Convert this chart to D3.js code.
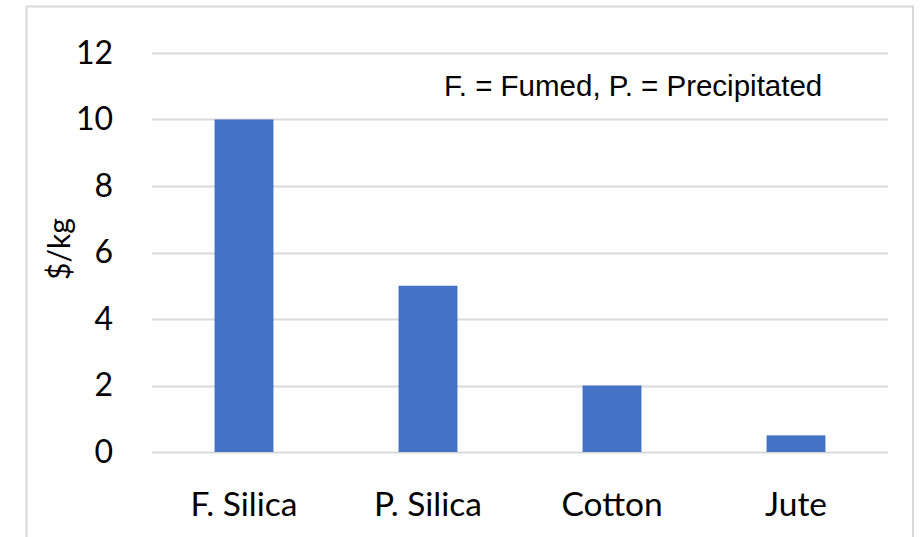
<!DOCTYPE html>
<html>
<head>
<meta charset="utf-8">
<script src="https://cdn.jsdelivr.net/npm/d3@7"></script>
<style>
  html, body { margin: 0; padding: 0; background: #fff; }
  svg { display: block; }
</style>
</head>
<body>
<div id="chart"></div>
<script>
// Price per kilogram of filler materials
const categories = ["F. Silica", "P. Silica", "Cotton", "Jute"];
const prices = [10, 5, 2, 0.5];
const yTicks = [0, 2, 4, 6, 8, 10, 12];
const yLabel = "$/kg";
const note = "F. = Fumed, P. = Precipitated";

const W = 920, H = 537;
const plot = { left: 152, right: 888, top: 53, bottom: 452 };

const svg = d3.select("#chart").append("svg")
  .attr("width", W).attr("height", H);

// chart frame
svg.append("rect")
  .attr("x", 26.5).attr("y", 6.5)
  .attr("width", 913 - 26.5).attr("height", H + 10)
  .attr("fill", "#fff").attr("stroke", "#d9d9d9").attr("stroke-width", 2);

const x = d3.scaleBand()
  .domain(categories)
  .range([plot.left, plot.right])
  .paddingInner(0.68)
  .paddingOuter(0.34);

const y = d3.scaleLinear()
  .domain([0, 12])
  .range([plot.bottom, plot.top]);

// horizontal gridlines
svg.append("g")
  .selectAll("line")
  .data(yTicks)
  .join("line")
  .attr("x1", plot.left).attr("x2", plot.right)
  .attr("y1", d => Math.round(y(d)) + 0.5)
  .attr("y2", d => Math.round(y(d)) + 0.5)
  .attr("stroke", "#d9d9d9").attr("stroke-width", 2);

// y axis labels
const yAxis = d3.axisLeft(y).tickValues(yTicks).tickSize(0).tickPadding(0);
const gy = svg.append("g")
  .attr("transform", `translate(${113},0)`)
  .call(yAxis);
gy.select(".domain").remove();
gy.selectAll("text")
  .attr("font-family", "Lato, 'Noto Sans', sans-serif")
  .attr("font-size", 32)
  .attr("fill", "#000");

// bars
svg.append("g")
  .selectAll("rect")
  .data(categories.map((c, i) => ({ c, v: prices[i] })))
  .join("rect")
  .attr("x", d => x(d.c))
  .attr("width", x.bandwidth())
  .attr("y", d => y(d.v))
  .attr("height", d => y(0) - y(d.v))
  .attr("fill", "#4472c4");

// category labels
const xAxis = d3.axisBottom(x).tickSize(0).tickPadding(0);
const gx = svg.append("g")
  .attr("transform", `translate(0,${plot.bottom})`)
  .call(xAxis);
gx.select(".domain").remove();
gx.selectAll("text")
  .attr("dy", null)
  .attr("y", 64)
  .attr("font-family", "Lato, 'Noto Sans', sans-serif")
  .attr("font-size", 33.5)
  .attr("fill", "#000");

// axis title
svg.append("text")
  .attr("transform", `translate(${70},${249}) rotate(-90)`)
  .attr("text-anchor", "middle")
  .attr("font-family", "Lato, 'Noto Sans', sans-serif")
  .attr("font-size", 30)
  .attr("fill", "#000")
  .text(yLabel);

// abbreviation note
svg.append("text")
  .attr("x", 444).attr("y", 96)
  .attr("font-family", "'Liberation Sans', Arial, sans-serif")
  .attr("font-size", 29.5)
  .attr("fill", "#000")
  .text(note);
</script>
</body>
</html>
